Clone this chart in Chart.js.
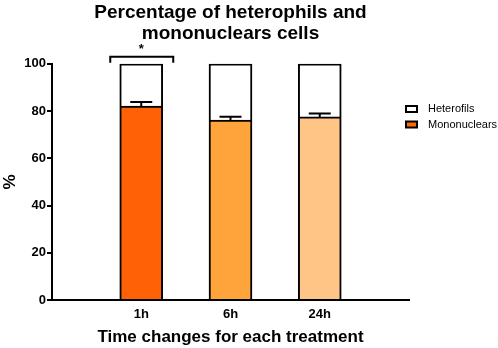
<!DOCTYPE html>
<html>
<head>
<meta charset="utf-8">
<script src="https://cdn.jsdelivr.net/npm/chart.js@4.4.1/dist/chart.umd.min.js"></script>
<style>
   html, body { margin:0; padding:0; background:#fff; }
   #wrap { width:498px; height:348px; }
</style>
</head>
<body>
<div id="wrap"><canvas id="chart"></canvas></div>
<script>

/* data */
let categories = ["", "1h", "6h", "24h", ""];

let mononuclears = [null, 82.1, 76.2, 77.5, null];
let mononuclearsErr = [null, 1.7, 1.4, 1.5, null];
let heterophils = [null, 17.9, 23.8, 22.5, null];

let monoColors = [null, "#FF6106", "#FFA43A", "#FFC586"];

let yTicks = [0, 20, 40, 60, 80, 100];

let fontName = "'Liberation Sans', Arial, Helvetica, sans-serif";

/* error bar diatas mononuclears */
let errorBarPlugin = {

   id: "errorBars",

   afterDatasetsDraw: function(chart){

      let ctx = chart.ctx;
      let meta = chart.getDatasetMeta(0);
      let yScale = chart.scales.y;

      ctx.save();
      ctx.strokeStyle = "#000";
      ctx.lineWidth = 2;

      meta.data.forEach(function(bar, i){

         if(mononuclears[i] === null) return;

         let yTop = yScale.getPixelForValue(mononuclears[i] + mononuclearsErr[i]);
         let yBase = yScale.getPixelForValue(mononuclears[i]);

         ctx.beginPath();
         ctx.moveTo(bar.x, yBase);
         ctx.lineTo(bar.x, yTop);
         ctx.moveTo(bar.x - 11, yTop);
         ctx.lineTo(bar.x + 11, yTop);
         ctx.stroke();

      });

      /* bracket + bintang di 1h */
      let b = meta.data[1];
      let y100 = yScale.getPixelForValue(100);

      ctx.beginPath();
      ctx.moveTo(b.x - 31, y100 - 1);
      ctx.lineTo(b.x - 31, y100 - 7);
      ctx.lineTo(b.x + 32, y100 - 7);
      ctx.lineTo(b.x + 32, y100 - 1);
      ctx.stroke();

      ctx.fillStyle = "#000";
      ctx.font = "bold 13px " + fontName;
      ctx.textAlign = "center";
      ctx.textBaseline = "middle";
      ctx.fillText("*", b.x, y100 - 14);

      ctx.restore();

   }

};

/* legend manual di kanan */
let legendPlugin = {

   id: "sideLegend",

   afterDraw: function(chart){

      let ctx = chart.ctx;
      let items = [
         { text: chart.data.datasets[1].label, fill: "#fff" },
         { text: chart.data.datasets[0].label, fill: "#FF6A00" }
      ];

      ctx.save();
      ctx.font = "11px " + fontName;
      ctx.textAlign = "left";
      ctx.textBaseline = "middle";

      items.forEach(function(item, i){

         let y = 109 + i * 15.5;

         ctx.fillStyle = item.fill;
         ctx.fillRect(406, y - 3, 11, 6);
         ctx.strokeStyle = "#000";
         ctx.lineWidth = 2;
         ctx.strokeRect(406, y - 3, 11, 6);

         ctx.fillStyle = "#000";
         ctx.fillText(item.text, 428, y);

      });

      ctx.restore();

   }

};

let ctx = document.getElementById("chart").getContext("2d");

new Chart(ctx, {

   type: "bar",

   data: {

      labels: categories,

      datasets: [
         {
            label: "Mononuclears",
            data: mononuclears,
            backgroundColor: monoColors,
            borderColor: "#000",
            borderWidth: 2,
            barThickness: 43
         },
         {
            label: "Heterofils",
            data: heterophils,
            backgroundColor: "#fff",
            borderColor: "#000",
            borderWidth: 2,
            barThickness: 43
         }
      ]

   },

   options: {

      responsive: true,
      maintainAspectRatio: false,
      animation: false,

      layout: {
         padding: { left: 0, right: 89, top: 0, bottom: 0 }
      },

      plugins: {

         legend: { display: false },
         tooltip: { enabled: false },

         title: {
            display: true,
            fullSize: false,
            text: ["Percentage of heterophils and", "mononuclears cells"],
            color: "#000",
            font: { family: fontName, size: 19, weight: "bold", lineHeight: 1.1 },
            padding: { top: 2, bottom: 20 }
         }

      },

      scales: {

         x: {
            stacked: true,
            offset: false,
            grid: { display: false, drawTicks: false },
            border: { display: true, color: "#000", width: 2 },
            ticks: {
               color: "#000",
               font: { family: fontName, size: 13, weight: "bold" },
               padding: 7,
               maxRotation: 0,
               autoSkip: false
            },
            title: {
               display: true,
               text: "Time changes for each treatment",
               color: "#000",
               font: { family: fontName, size: 17, weight: "bold" },
               padding: { top: 4, bottom: 0 }
            },
            afterFit: function(scale){
               scale.height = 48;
            }
         },

         y: {
            stacked: true,
            min: 0,
            max: 100,
            afterBuildTicks: function(scale){
               scale.ticks = yTicks.map(v => ({ value: v }));
            },
            grid: {
               drawOnChartArea: false,
               drawTicks: true,
               tickLength: 5,
               color: "#000",
               lineWidth: 2
            },
            border: { display: true, color: "#000", width: 2 },
            ticks: {
               color: "#000",
               font: { family: fontName, size: 13, weight: "bold" },
               padding: 1
            },
            title: {
               display: true,
               text: "%",
               color: "#000",
               font: { family: fontName, size: 17, weight: "bold" },
               padding: 0
            },
            afterFit: function(scale){
               scale.width = 52;
            }
         }

      }

   },

   plugins: [errorBarPlugin, legendPlugin]

});

</script>
</body>
</html>
